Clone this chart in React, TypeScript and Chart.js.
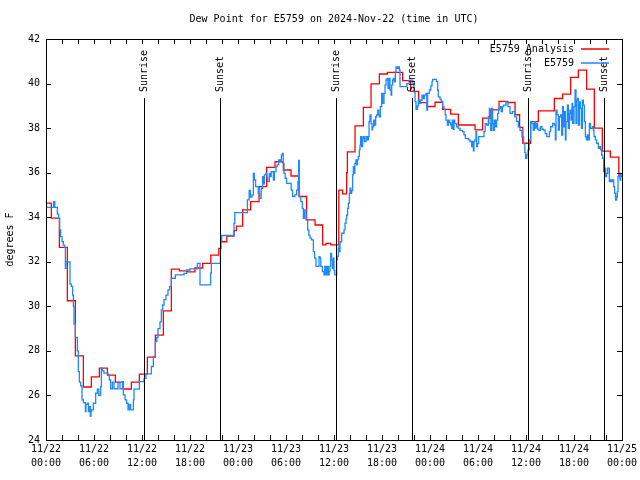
import React, { useEffect, useRef } from "react";
import { Chart, registerables } from "chart.js";

Chart.register(...registerables);

const TITLE = "Dew Point for E5759 on 2024-Nov-22 (time in UTC)";
const Y_TITLE = "degrees F";
const FONT = "'DejaVu Sans Mono', monospace";

// hours since 2024-11-22 00:00 UTC
const X_MIN = 0;
const X_MAX = 72;
const Y_MIN = 24;
const Y_MAX = 42;
const DATE_LABELS = ["11/22", "11/22", "11/22", "11/22", "11/23", "11/23", "11/23", "11/23", "11/24", "11/24", "11/24", "11/24", "11/25"];
const TIME_LABELS = ["00:00", "06:00", "12:00", "18:00", "00:00", "06:00", "12:00", "18:00", "00:00", "06:00", "12:00", "18:00", "00:00"];

const SUN_HOURS = [12.2, 21.75, 36.2, 45.73, 60.22, 69.72];
const SUN_LABELS = ["Sunrise", "Sunset", "Sunrise", "Sunset", "Sunrise", "Sunset"];

const SERIES_NAMES = ["E5759 Analysis", "E5759"];
const SERIES_COLORS = ["#ff0000", "#1e88ff"];

// analysis: [hour, dew point F] (value holds until next point)
const ANALYSIS: [number, number][] = [
  [0, 34.63], [0.67, 33.96], [1.67, 32.65], [2.67, 30.25], [3.67, 27.78], [4.67, 26.38],
  [5.67, 26.83], [6.67, 27.23], [7.67, 26.91], [8.67, 26.6], [9.67, 26.29], [10.67, 26.6],
  [11.67, 26.96], [12.67, 27.72], [13.67, 28.71], [14.67, 29.8], [15.67, 31.67], [16.67, 31.59],
  [17.67, 31.55], [18.62, 31.72], [19.58, 31.93], [20.6, 32.3], [21.6, 32.6], [21.85, 32.9],
  [22.6, 33.15], [23.5, 33.4], [23.8, 33.6], [24.58, 34.33], [25.58, 34.7], [26.63, 35.37],
  [27.58, 36.24], [28.63, 36.49], [29.67, 36.12], [30.63, 35.85], [31.63, 34.93], [32.58, 33.88],
  [33.63, 33.65], [34.58, 32.76], [35.0, 32.83], [35.6, 32.76], [36.6, 35.22], [37.08, 35.05],
  [37.58, 36.0], [37.67, 36.93], [38.63, 38.1], [39.67, 38.93], [40.63, 39.99], [41.67, 40.43],
  [42.67, 40.5], [44.58, 40.13], [45.58, 39.65], [46.58, 39.14], [47.67, 38.97], [48.63, 39.16],
  [49.58, 38.84], [50.58, 38.63], [51.54, 38.14], [53.63, 37.92], [54.58, 38.45], [55.6, 38.82],
  [56.63, 39.2], [57.67, 39.15], [58.63, 38.6], [59.2, 38.03], [59.6, 37.32], [60.58, 38.29],
  [61.54, 38.77], [63.54, 39.33], [64.58, 39.53], [65.58, 40.28], [66.54, 40.6], [67.58, 39.75],
  [68.54, 38.0], [69.54, 36.97], [70.54, 36.7], [71.6, 35.85], [72, 35.85],
];

// observations: [hour, dew point F] (value holds until next point)
const OBSERVED: [number, number][] = [
  [0, 34.44], [0.95, 34.7], [1.1, 34.44], [1.42, 34.14], [1.58, 33.95], [1.71, 33.43], [1.83, 33.13],
  [2.0, 32.9], [2.17, 32.75], [2.33, 32.65], [2.42, 31.7], [2.5, 32.0], [3.0, 31.0], [3.17, 30.9],
  [3.33, 30.5], [3.42, 30.0], [3.5, 29.2], [3.67, 28.6], [3.92, 28.0], [4.04, 27.07], [4.17, 26.6],
  [4.33, 26.43], [4.5, 25.8], [4.67, 25.68], [4.92, 25.28], [5.0, 25.6], [5.17, 25.65], [5.3, 25.28],
  [5.45, 25.5], [5.54, 25.06], [5.62, 25.3], [5.71, 25.35], [5.92, 25.65], [6.21, 26.1], [6.42, 26.28],
  [6.6, 26.0], [6.83, 26.4], [6.92, 27.22], [7.05, 27.1], [7.25, 27.0], [7.75, 26.92], [7.92, 26.7],
  [8.08, 26.3], [8.3, 26.6], [8.5, 26.3], [9.0, 26.58], [9.25, 26.3], [9.58, 26.62], [9.67, 26.03],
  [9.88, 25.8], [10.08, 25.65], [10.25, 25.35], [10.4, 25.6], [10.58, 25.35], [10.92, 25.8], [11.0, 26.28],
  [11.67, 26.62], [12.25, 26.77], [12.5, 26.97], [13.17, 27.3], [13.42, 27.75], [13.67, 28.42], [13.85, 28.6],
  [14.0, 29.0], [14.25, 29.3], [14.42, 29.84], [14.58, 30.06], [14.75, 30.3], [15.0, 30.5], [15.25, 30.74],
  [15.45, 30.9], [15.67, 31.26], [16.17, 31.41], [17.25, 31.48], [17.58, 31.63], [18.0, 31.68], [18.92, 31.93],
  [19.25, 30.96], [20.58, 31.5], [20.67, 31.93], [21.8, 32.5], [21.83, 32.91], [21.96, 33.18], [23.5, 33.73],
  [23.6, 34.21], [25.17, 34.78], [25.4, 35.2], [25.55, 34.9], [25.75, 35.0], [25.92, 35.97], [26.05, 35.67],
  [26.2, 35.37], [26.54, 35.07], [26.7, 34.85], [26.9, 35.3], [27.08, 35.82], [27.2, 35.5], [27.3, 35.9],
  [27.5, 35.97], [27.6, 35.8], [27.7, 35.6], [27.92, 35.97], [28.05, 35.82], [28.15, 36.05], [28.42, 35.67],
  [28.55, 36.05], [28.75, 36.27], [28.9, 36.35], [29.08, 36.57], [29.25, 36.5], [29.42, 36.79], [29.54, 36.87],
  [29.65, 36.42], [29.75, 35.97], [29.9, 35.75], [30.08, 35.52], [30.5, 35.52], [30.65, 35.22], [30.83, 34.93],
  [31.1, 35.0], [31.33, 35.22], [31.5, 35.6], [31.58, 36.55], [31.66, 34.93], [31.85, 34.7], [32.04, 34.4],
  [32.17, 33.95], [32.3, 34.33], [32.5, 33.88], [32.71, 33.43], [32.85, 33.2], [33.0, 33.06], [33.2, 32.98],
  [33.42, 32.46], [33.58, 32.16], [33.75, 31.79], [34.13, 32.23], [34.25, 32.16], [34.35, 31.79], [34.55, 31.56],
  [34.75, 31.41], [34.85, 31.79], [35.0, 31.41], [35.15, 31.79], [35.29, 31.41], [35.4, 31.56], [35.5, 31.79],
  [35.58, 32.38], [35.7, 32.08], [35.8, 31.7], [35.92, 32.16], [36.0, 31.6], [36.1, 31.41], [36.33, 32.09],
  [36.42, 32.24], [36.54, 32.6], [36.62, 32.76], [36.67, 32.46], [36.75, 32.9], [36.96, 33.28], [37.25, 33.43],
  [37.38, 33.73], [37.5, 33.9], [37.58, 34.1], [37.7, 34.4], [37.79, 34.63], [37.92, 35.07], [38.0, 35.3],
  [38.1, 35.07], [38.2, 35.2], [38.33, 35.9], [38.42, 36.27], [38.5, 35.97], [38.6, 36.42], [38.75, 36.57],
  [38.83, 36.35], [38.92, 36.57], [39.04, 36.72], [39.17, 37.02], [39.25, 37.24], [39.33, 37.62], [39.46, 37.17],
  [39.58, 37.55], [39.67, 37.62], [39.8, 37.4], [40.0, 37.62], [40.17, 37.47], [40.29, 37.62], [40.38, 38.29],
  [40.5, 38.59], [40.63, 38.2], [40.75, 37.92], [40.83, 38.06], [40.96, 38.36], [41.08, 38.14], [41.21, 38.51],
  [41.33, 38.59], [41.46, 38.81], [41.58, 38.59], [41.67, 38.51], [41.79, 38.96], [41.96, 39.56], [42.08, 39.11],
  [42.25, 39.56], [42.38, 39.93], [42.5, 40.16], [42.63, 40.23], [42.75, 39.78], [42.92, 40.23], [43.0, 39.71],
  [43.13, 39.48], [43.21, 39.93], [43.33, 40.16], [43.42, 40.23], [43.54, 40.08], [43.67, 40.53], [43.75, 40.75],
  [43.92, 40.68], [44.04, 40.75], [44.17, 40.61], [44.25, 39.86], [45.1, 40.0], [45.4, 40.15], [45.85, 40.0],
  [46.0, 39.63], [46.13, 39.19], [46.25, 38.84], [46.42, 39.0], [46.54, 39.25], [46.67, 39.11], [46.83, 39.25],
  [47.0, 39.48], [47.17, 39.33], [47.3, 39.48], [47.5, 39.56], [47.6, 38.81], [47.7, 39.56], [47.92, 39.71],
  [48.1, 39.9], [48.25, 40.1], [48.33, 40.19], [48.8, 40.1], [48.95, 39.71], [49.04, 39.4], [49.25, 39.3],
  [49.4, 39.2], [49.58, 38.96], [49.75, 38.85], [49.9, 38.6], [50.0, 38.36], [50.17, 38.14], [50.3, 38.36],
  [50.45, 38.25], [50.58, 38.14], [50.71, 37.99], [50.78, 38.36], [50.9, 37.95], [51.0, 38.36], [51.1, 38.2],
  [51.33, 38.06], [51.54, 37.99], [51.75, 37.9], [52.08, 37.84], [52.25, 37.7], [52.42, 37.54], [52.8, 37.47],
  [53.0, 37.4], [53.21, 37.17], [53.3, 37.4], [53.42, 36.98], [53.5, 37.4], [53.6, 37.47], [53.75, 37.84],
  [53.83, 37.17], [53.92, 37.3], [54.08, 37.62], [54.75, 37.84], [54.9, 38.2], [55.1, 38.14], [55.29, 38.51],
  [55.42, 38.89], [55.5, 38.2], [55.58, 37.9], [55.71, 38.89], [55.83, 38.2], [55.92, 37.9], [56.04, 38.36],
  [56.17, 38.06], [56.33, 38.36], [56.46, 38.66], [56.58, 38.89], [56.75, 38.96], [56.9, 38.74], [57.05, 38.96],
  [57.2, 39.03], [57.5, 39.18], [57.75, 38.96], [58.0, 38.66], [58.3, 38.74], [58.6, 38.5], [58.83, 38.3],
  [59.04, 38.06], [59.25, 37.9], [59.5, 37.61], [59.7, 37.3], [59.85, 36.9], [59.95, 36.64], [60.1, 36.8],
  [60.25, 37.02], [60.4, 37.47], [60.58, 38.29], [60.7, 38.2], [60.9, 37.91], [61.05, 38.29], [61.2, 38.0],
  [61.3, 38.2], [61.45, 37.95], [61.6, 37.9], [61.8, 38.06], [62.0, 37.95], [62.2, 37.91], [62.4, 37.75],
  [62.6, 37.62], [62.79, 37.62], [62.92, 37.84], [63.08, 38.06], [63.33, 38.21], [63.54, 38.14], [63.67, 37.47],
  [63.75, 38.81], [63.88, 38.59], [64.04, 37.91], [64.17, 38.51], [64.33, 38.59], [64.46, 37.69], [64.58, 38.96],
  [64.67, 38.06], [64.79, 38.74], [64.92, 37.47], [65.0, 38.29], [65.17, 39.03], [65.29, 37.99], [65.42, 38.66],
  [65.5, 38.81], [65.63, 38.36], [65.75, 39.11], [65.83, 38.21], [66.0, 38.96], [66.13, 39.71], [66.25, 38.21],
  [66.33, 39.26], [66.46, 39.33], [66.54, 38.14], [66.67, 39.18], [66.79, 38.89], [66.92, 37.99], [67.04, 39.26],
  [67.17, 39.03], [67.29, 38.29], [67.42, 37.62], [67.54, 37.47], [67.67, 37.69], [67.79, 37.47], [67.92, 38.21],
  [68.04, 37.99], [68.29, 38.06], [68.42, 37.91], [68.5, 37.62], [68.67, 37.47], [68.83, 37.32], [69.04, 37.09],
  [69.17, 37.17], [69.33, 37.02], [69.46, 36.79], [69.58, 36.64], [69.71, 36.05], [69.83, 36.2], [69.96, 35.82],
  [70.08, 35.97], [70.21, 36.2], [70.33, 36.2], [70.42, 35.6], [70.58, 35.67], [70.71, 35.6], [70.83, 35.67],
  [70.96, 35.37], [71.08, 35.07], [71.21, 34.77], [71.33, 34.92], [71.42, 35.15], [71.5, 35.82], [71.63, 35.97],
  [71.75, 35.67], [71.85, 35.9], [72, 35.9],
];

const overlayPlugin = {
  id: "gnuplotOverlay",
  afterDatasetsDraw(chart: any) {
    const { ctx, chartArea } = chart;
    const { left, right, top, bottom } = chartArea;
    const xs = chart.scales.x;
    const ys = chart.scales.y;
    const r = (v: number) => Math.round(v) + 0.5;
    ctx.save();
    ctx.strokeStyle = "#000";
    ctx.lineWidth = 1;
    // frame
    ctx.strokeRect(r(left), r(top), Math.round(right) - Math.round(left), Math.round(bottom) - Math.round(top));
    // ticks (inward, mirrored)
    ctx.beginPath();
    xs.ticks.forEach((t: any) => {
      const px = r(xs.getPixelForValue(t.value));
      ctx.moveTo(px, bottom);
      ctx.lineTo(px, bottom - 5);
      ctx.moveTo(px, top);
      ctx.lineTo(px, top + 5);
    });
    ys.ticks.forEach((t: any) => {
      const py = r(ys.getPixelForValue(t.value));
      ctx.moveTo(left, py);
      ctx.lineTo(left + 5, py);
      ctx.moveTo(right, py);
      ctx.lineTo(right - 5, py);
    });
    ctx.stroke();
    // sunrise / sunset markers
    ctx.font = `10px ${FONT}`;
    ctx.fillStyle = "#000";
    SUN_HOURS.forEach((h, i) => {
      const px = r(xs.getPixelForValue(h));
      ctx.beginPath();
      ctx.moveTo(px, top + 59);
      ctx.lineTo(px, bottom);
      ctx.stroke();
      ctx.save();
      ctx.translate(px, top + 53);
      ctx.rotate(-Math.PI / 2);
      ctx.textAlign = "left";
      ctx.textBaseline = "middle";
      ctx.fillText(SUN_LABELS[i], 0, 0);
      ctx.restore();
    });
    // legend
    SERIES_NAMES.forEach((name, i) => {
      const y = top + 10 + i * 14;
      ctx.textAlign = "right";
      ctx.textBaseline = "middle";
      ctx.fillStyle = "#000";
      ctx.fillText(name, right - 48, y);
      ctx.save();
      ctx.strokeStyle = SERIES_COLORS[i];
      ctx.lineWidth = 1.5;
      ctx.beginPath();
      ctx.moveTo(right - 41, Math.round(y));
      ctx.lineTo(right - 13, Math.round(y));
      ctx.stroke();
      ctx.restore();
    });
    // title
    ctx.fillStyle = "#000";
    ctx.textAlign = "center";
    ctx.textBaseline = "middle";
    ctx.fillText(TITLE, (left + right) / 2, 19);
    ctx.restore();
  },
};

export default function App() {
  const ref = useRef<HTMLCanvasElement | null>(null);
  useEffect(() => {
    if (!ref.current) return;
    Chart.defaults.font.family = FONT;
    Chart.defaults.font.size = 10;
    Chart.defaults.color = "#000";
    const chart = new Chart(ref.current, {
      type: "line",
      data: {
        datasets: [
          {
            label: SERIES_NAMES[1],
            data: OBSERVED.map(([x, y]) => ({ x, y })),
            borderColor: SERIES_COLORS[1],
            borderWidth: 1.3,
            pointRadius: 0,
            stepped: "before",
            fill: false,
          },
          {
            label: SERIES_NAMES[0],
            data: ANALYSIS.map(([x, y]) => ({ x, y })),
            borderColor: SERIES_COLORS[0],
            borderWidth: 1.3,
            pointRadius: 0,
            stepped: "before",
            fill: false,
          },
        ],
      },
      options: {
        animation: false,
        responsive: false,
        devicePixelRatio: 1,
        events: [],
        layout: { padding: { left: 0, right: 18, top: 39, bottom: 0 } },
        plugins: { legend: { display: false }, title: { display: false }, tooltip: { enabled: false } },
        scales: {
          x: {
            type: "linear",
            min: X_MIN,
            max: X_MAX,
            grid: { display: false, drawTicks: false },
            border: { display: false },
            ticks: {
              stepSize: 2,
              autoSkip: false,
              maxRotation: 0,
              minRotation: 0,
              padding: 2,
              font: { family: FONT, size: 10, lineHeight: 1.4 },
              callback: (v: any) => {
                const n = Number(v);
                if (n % 6 !== 0) return "";
                const k = n / 6;
                return [DATE_LABELS[k], TIME_LABELS[k]];
              },
            },
            afterFit: (s: any) => {
              s.height = 40;
              s.paddingLeft = 0;
              s.paddingRight = 0;
            },
          },
          y: {
            min: Y_MIN,
            max: Y_MAX,
            grid: { display: false, drawTicks: false },
            border: { display: false },
            ticks: { stepSize: 2, padding: 6, font: { family: FONT, size: 10 } },
            title: {
              display: true,
              text: Y_TITLE,
              font: { family: FONT, size: 10, lineHeight: 1.2 },
              padding: { top: 4, bottom: 0 },
            },
            afterFit: (s: any) => {
              s.width = 46;
            },
          },
        },
      },
      plugins: [overlayPlugin],
    });
    return () => chart.destroy();
  }, []);
  return (
    <div style={{ position: "absolute", left: 0, top: 0, width: 640, height: 480, background: "#fff" }}>
      <canvas ref={ref} width={640} height={480} />
    </div>
  );
}
